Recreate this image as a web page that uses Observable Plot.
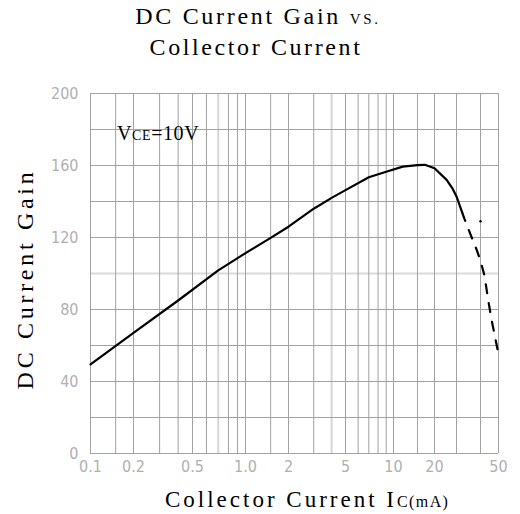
<!DOCTYPE html>
<html><head><meta charset="utf-8">
<script src="https://cdn.jsdelivr.net/npm/d3@7"></script>
<script src="https://cdn.jsdelivr.net/npm/@observablehq/plot@0.6"></script>
<style>body{margin:0;background:#fff;} svg{display:block}</style>
</head><body><div id="chart"></div>
<script>
// Measured curve (solid part)
const solidCurrent = [0.1, 0.2, 0.4, 0.7, 1, 1.5, 2, 3, 4, 5, 7, 9, 11.7, 15, 17, 20, 25, 28, 30, 32.1];
const solidGain    = [49.5, 67, 85, 101.7, 111.3, 119.8, 126, 136, 142, 146.3, 153.5, 156.5, 159.4, 160.2, 160.4, 158.5, 152, 147, 142.8, 134];
// Extrapolated curve (dashed part)
const dashCurrent = [32.1, 33, 36, 38.2, 40, 42, 44, 46, 48, 49.5];
const dashGain    = [134, 130.4, 120, 113.2, 107, 99, 85.3, 73.7, 64.2, 57.5];
// Stray mark
const strayCurrent = [40];
const strayGain = [129];

// Axis ticks
const xTicks = [0.1, 0.2, 0.5, 1, 2, 5, 10, 20, 50];
const xTickLabels = ["0.1", "0.2", "0.5", "1.0", "2", "5", "10", "20", "50"];
const yTicks = [0, 40, 80, 120, 160, 200];
const yTickLabels = ["0", "40", "80", "120", "160", "200"];

// Grid lines
const xGrid = [0.1, 0.15, 0.2, 0.3, 0.4, 0.5, 0.6, 0.8, 0.9, 1, 1.5, 2, 3, 5, 6, 7, 8, 9, 10, 15, 20, 30, 40, 50];
const xGridLight = [0.7, 4];
const yGrid = [0, 20, 40, 60, 80, 120, 140, 160, 180, 200];
const yGridLight = [100];

// The printed log axis has uneven decade widths: piecewise-log scale knots
const xKnots = [0.1, 0.2, 0.5, 1, 2, 5, 10, 20, 30, 40, 50];
const xKnotRange = [90, 133, 192, 245, 288, 345, 393, 434, 456, 480, 498];

const solid = solidCurrent.map((x, i) => ({x, y: solidGain[i]}));
const dashed = dashCurrent.map((x, i) => ({x, y: dashGain[i]}));
const stray = strayCurrent.map((x, i) => ({x, y: strayGain[i]}));

const serif = '"Liberation Serif","Times New Roman",serif';
const narrow = '"Liberation Sans Narrow","DejaVu Sans Condensed",sans-serif';

const chart = Plot.plot({
  width: 520, height: 514,
  marginTop: 93, marginRight: 22, marginBottom: 61, marginLeft: 90,
  x: {type: "log", domain: xKnots, range: xKnotRange, axis: null},
  y: {domain: [0, 200], axis: null},
  style: {background: "#fff"},
  marks: [
    Plot.ruleX(xGridLight, {stroke: "#d6d6d6", strokeWidth: 2}),
    Plot.ruleY(yGridLight, {stroke: "#d9d9d9", strokeWidth: 2}),
    Plot.ruleX(xGrid, {stroke: "#a2a2a2", strokeWidth: 1}),
    Plot.ruleY(yGrid, {stroke: "#a2a2a2", strokeWidth: 1}),
    Plot.text(xTicks, {x: d => d, text: (d, i) => xTickLabels[i], frameAnchor: "bottom", dy: 18,
      fill: "#b0b0b0", fontSize: 16, fontFamily: narrow}),
    Plot.text(yTicks, {y: d => d, text: (d, i) => yTickLabels[i], frameAnchor: "left", dx: -12,
      textAnchor: "end", fill: "#b0b0b0", fontSize: 16, fontFamily: narrow}),
    Plot.line(solid, {x: "x", y: "y", stroke: "black", strokeWidth: 2.2}),
    Plot.line(dashed, {x: "x", y: "y", stroke: "black", strokeWidth: 2.2, strokeDasharray: "9,10"}),
    Plot.dot(stray, {x: "x", y: "y", r: 1.2, fill: "black", stroke: null})
  ]
});

const svg = d3.select(chart);
// Title
const t1 = svg.append("text").attr("x", 258).attr("y", 24).attr("text-anchor", "middle")
  .style("font-family", serif).style("font-size", "24px").style("letter-spacing", "2.7px").attr("fill", "#000");
t1.append("tspan").text("DC Current Gain ");
t1.append("tspan").style("font-size", "15px").text("VS.");
svg.append("text").attr("x", 256).attr("y", 55).attr("text-anchor", "middle")
  .style("font-family", serif).style("font-size", "24px").style("letter-spacing", "2.6px").attr("fill", "#000")
  .text("Collector Current");
// Y label
svg.append("text").attr("transform", "translate(33,279) rotate(-90)").attr("text-anchor", "middle")
  .style("font-family", serif).style("font-size", "24px").style("letter-spacing", "3.7px").attr("fill", "#000")
  .text("DC Current Gain");
// X label
const xl = svg.append("text").attr("x", 165).attr("y", 507).attr("text-anchor", "start")
  .style("font-family", serif).style("font-size", "23px").style("letter-spacing", "3px").attr("fill", "#000");
xl.append("tspan").text("Collector Current I");
xl.append("tspan").style("font-size", "16px").style("letter-spacing", "1.4px").text("C(mA)");
// Condition label
const vc = svg.append("text").attr("x", 117).attr("y", 140).attr("text-anchor", "start")
  .style("font-family", serif).style("font-size", "20px").style("letter-spacing", "0.6px").attr("fill", "#000");
vc.append("tspan").text("V");
vc.append("tspan").style("font-size", "14px").text("CE");
vc.append("tspan").text("=10V");

document.getElementById("chart").appendChild(chart);
</script>
</body></html>
